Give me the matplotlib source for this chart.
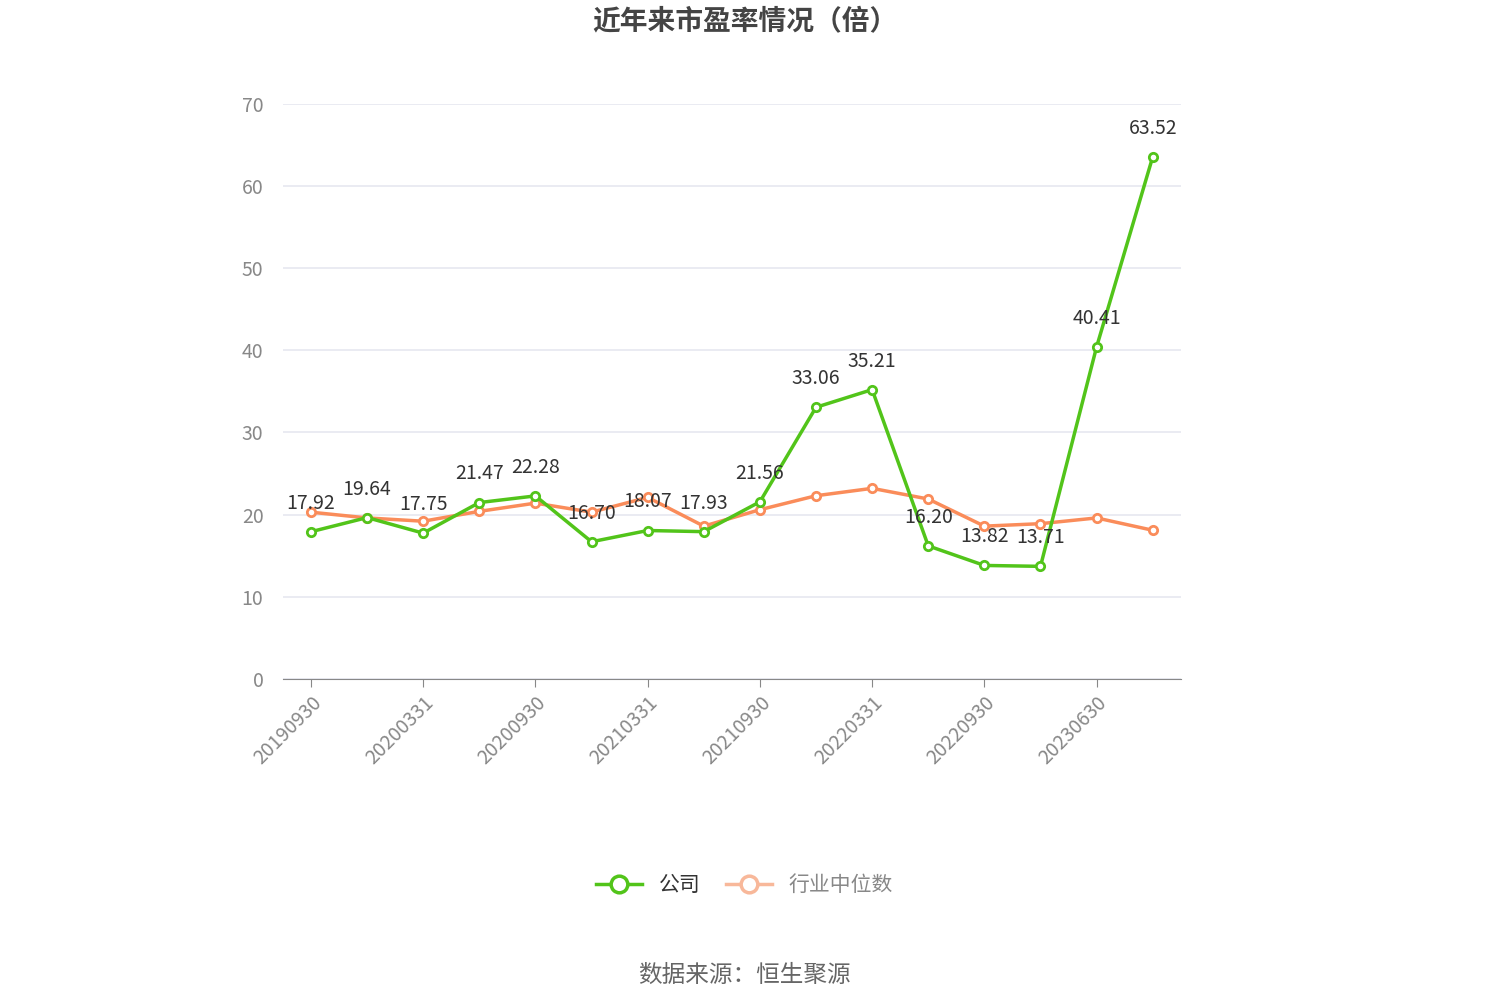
import matplotlib
matplotlib.use("Agg")
import matplotlib.pyplot as plt

plt.rcParams['font.family'] = ['Noto Sans CJK SC']

categories = ["20190930","20191231","20200331","20200630","20200930","20201231","20210331","20210630",
              "20210930","20211231","20220331","20220630","20220930","20221231","20230630","20230930"]
company = [17.92,19.64,17.75,21.47,22.28,16.70,18.07,17.93,21.56,33.06,35.21,16.20,13.82,13.71,40.41,63.52]
industry = [20.3,19.6,19.2,20.4,21.4,20.3,22.1,18.6,20.6,22.3,23.2,21.9,18.6,18.9,19.6,18.1]
yticks = [0,10,20,30,40,50,60,70]

fig = plt.figure(figsize=(14.89,10.06), dpi=100)
ax = fig.add_axes([0.19,0.325,0.603,0.572])
x = list(range(len(categories)))
green = "#52c41a"; orange = "#fa8c5a"
ax.plot(x, industry, color=orange, lw=2.5, marker='o', ms=6, mfc='white', mec=orange, mew=2, zorder=3)
ax.plot(x, company, color=green, lw=2.5, marker='o', ms=6, mfc='white', mec=green, mew=2, zorder=4)
for xi, v in zip(x, company):
    ax.text(xi, v+2.2, f"{v:.2f}", ha='center', va='bottom', fontsize=14, color='#333333', zorder=5)
ax.set_xlim(-0.5, 15.5)
ax.set_ylim(0, 70)
ax.set_yticks(yticks)
ax.set_yticklabels([str(t) for t in yticks], fontsize=14, color='#888888')
ax.set_xticks(x[::2])
ax.set_xticklabels(categories[::2], rotation=45, ha='right', rotation_mode='anchor', fontsize=14, color='#888888')
ax.grid(axis='y', color='#e6e8f0', lw=1.2)
ax.set_axisbelow(True)
for s in ['top','right','left']:
    ax.spines[s].set_visible(False)
ax.spines['bottom'].set_color('#888888')
ax.tick_params(axis='y', length=0, pad=14)
ax.tick_params(axis='x', length=6, color='#888888')

fig.text(0.5, 0.978, "近年来市盈率情况（倍）", ha='center', va='center', fontsize=20, fontweight='bold', color='#444444')
from matplotlib.lines import Line2D
h = [Line2D([0],[0], color=green, lw=2.5, marker='o', ms=12, mfc='white', mew=2.5),
     Line2D([0],[0], color='#f8b89a', lw=2.5, marker='o', ms=12, mfc='white', mew=2.5)]
fig.legend(h, ["公司","行业中位数"], loc='center', bbox_to_anchor=(0.5,0.12), ncol=2, frameon=False,
           fontsize=15, handlelength=2.2, columnspacing=1.2, labelcolor=['#333333','#888888'])
fig.text(0.5, 0.03, "数据来源：恒生聚源", ha='center', va='center', fontsize=17, color='#666666')
fig.savefig("out.png", dpi=100)
